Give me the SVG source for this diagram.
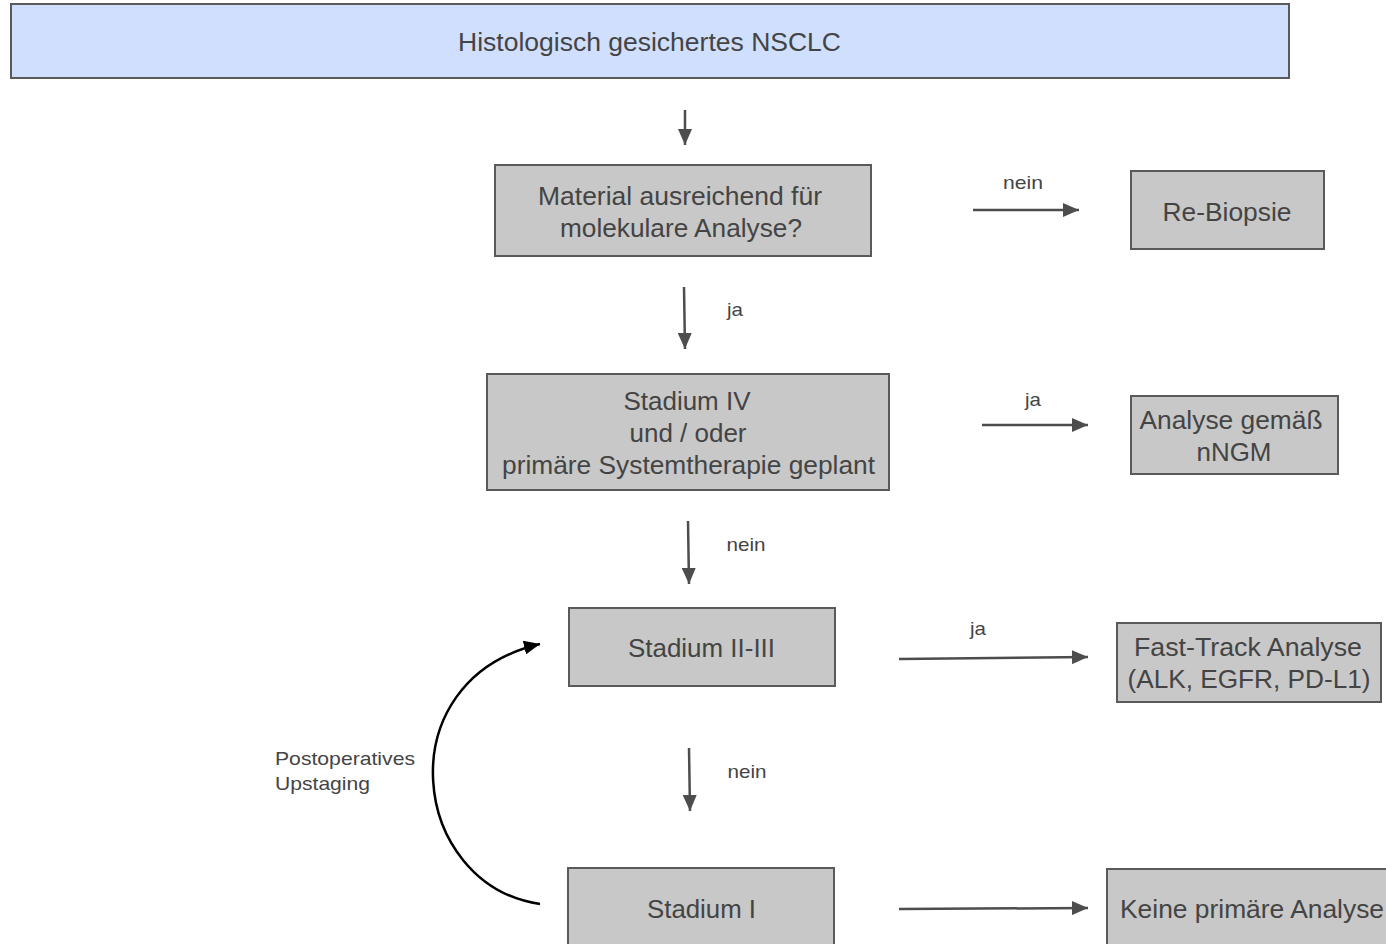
<svg xmlns="http://www.w3.org/2000/svg" width="1386" height="944" viewBox="0 0 1386 944">
  <style>
    .box { fill: #c8c8c8; stroke: #5a5a5a; stroke-width: 2; }
    .head { fill: #cfdffd; stroke: #5a5a5a; stroke-width: 2; }
    .t { font-family: "Liberation Sans", Arial, sans-serif; font-size: 25px; fill: #444; text-anchor: middle; }
    .lbl { font-family: "Liberation Sans", Arial, sans-serif; font-size: 19px; fill: #444; text-anchor: middle; }
    .note { font-family: "Liberation Sans", Arial, sans-serif; font-size: 19px; fill: #444; }
    .conn { stroke: #4d4d4d; stroke-width: 2.5; fill: none; marker-end: url(#arr); }
    .loop { stroke: #000; stroke-width: 2.5; fill: none; marker-end: url(#arrK); }
  </style>
  <defs>
    <marker id="arr" markerUnits="userSpaceOnUse" markerWidth="16" markerHeight="14" refX="16" refY="7" orient="auto">
      <path d="M0,0 L16,7 L0,14 z" fill="#4d4d4d"/>
    </marker>
    <marker id="arrK" markerUnits="userSpaceOnUse" markerWidth="16" markerHeight="14" refX="16" refY="7" orient="auto">
      <path d="M0,0 L16,7 L0,14 z" fill="#000"/>
    </marker>
  </defs>

  <rect width="1386" height="944" fill="#fff"/>

  <g id="n-start">
    <rect class="head" x="11" y="4" width="1278" height="74"/>
    <text class="t" x="649.5" y="51" textLength="383" lengthAdjust="spacingAndGlyphs">Histologisch gesichertes NSCLC</text>
  </g>

  <g id="n-material">
    <rect class="box" x="495" y="165" width="376" height="91"/>
    <text class="t" x="680" y="205" textLength="284" lengthAdjust="spacingAndGlyphs">Material ausreichend für</text>
    <text class="t" x="681" y="237" textLength="242" lengthAdjust="spacingAndGlyphs">molekulare Analyse?</text>
  </g>

  <g id="n-rebiopsie">
    <rect class="box" x="1131" y="171" width="193" height="78"/>
    <text class="t" x="1227" y="221" textLength="129" lengthAdjust="spacingAndGlyphs">Re-Biopsie</text>
  </g>

  <g id="n-stadium4">
    <rect class="box" x="487" y="374" width="402" height="116"/>
    <text class="t" x="687" y="410" textLength="127" lengthAdjust="spacingAndGlyphs">Stadium IV</text>
    <text class="t" x="688" y="442" textLength="117" lengthAdjust="spacingAndGlyphs">und / oder</text>
    <text class="t" x="688.5" y="474" textLength="373" lengthAdjust="spacingAndGlyphs">primäre Systemtherapie geplant</text>
  </g>

  <g id="n-ngm">
    <rect class="box" x="1131" y="396" width="207" height="78"/>
    <text class="t" x="1231" y="429" textLength="183" lengthAdjust="spacingAndGlyphs">Analyse gemäß</text>
    <text class="t" x="1234" y="461" textLength="75" lengthAdjust="spacingAndGlyphs">nNGM</text>
  </g>

  <g id="n-stadium23">
    <rect class="box" x="569" y="608" width="266" height="78"/>
    <text class="t" x="701.5" y="657" textLength="147" lengthAdjust="spacingAndGlyphs">Stadium II-III</text>
  </g>

  <g id="n-fasttrack">
    <rect class="box" x="1117" y="623" width="264" height="79"/>
    <text class="t" x="1248" y="656" textLength="228" lengthAdjust="spacingAndGlyphs">Fast-Track Analyse</text>
    <text class="t" x="1249" y="688" textLength="243" lengthAdjust="spacingAndGlyphs">(ALK, EGFR, PD-L1)</text>
  </g>

  <g id="n-stadium1">
    <rect class="box" x="568" y="868" width="266" height="90"/>
    <text class="t" x="701.5" y="918" textLength="109" lengthAdjust="spacingAndGlyphs">Stadium I</text>
  </g>

  <g id="n-keine">
    <rect class="box" x="1107" y="869" width="300" height="90"/>
    <text class="t" x="1120" y="918" style="text-anchor:start" textLength="264" lengthAdjust="spacingAndGlyphs">Keine primäre Analyse</text>
  </g>

  <g id="connectors">
    <line class="conn" x1="685" y1="110" x2="685" y2="145"/>
    <line class="conn" x1="973" y1="210" x2="1079" y2="210"/>
    <line class="conn" x1="684" y1="287" x2="685" y2="349"/>
    <line class="conn" x1="982" y1="425" x2="1088" y2="425"/>
    <line class="conn" x1="688" y1="521" x2="689" y2="584"/>
    <line class="conn" x1="899" y1="659" x2="1088" y2="657"/>
    <line class="conn" x1="689" y1="748" x2="690" y2="811"/>
    <line class="conn" x1="899" y1="909" x2="1088" y2="908"/>
    <path class="loop" d="M540,904 C410,885 385,680 540,644"/>

    <text class="lbl" x="1023" y="189" textLength="40" lengthAdjust="spacingAndGlyphs">nein</text>
    <text class="lbl" x="735" y="316" textLength="16" lengthAdjust="spacingAndGlyphs">ja</text>
    <text class="lbl" x="1033" y="406" textLength="16" lengthAdjust="spacingAndGlyphs">ja</text>
    <text class="lbl" x="746" y="551" textLength="39" lengthAdjust="spacingAndGlyphs">nein</text>
    <text class="lbl" x="978" y="635" textLength="16" lengthAdjust="spacingAndGlyphs">ja</text>
    <text class="lbl" x="747" y="778" textLength="39" lengthAdjust="spacingAndGlyphs">nein</text>
    <text class="note" x="275" y="765" textLength="140" lengthAdjust="spacingAndGlyphs">Postoperatives</text>
    <text class="note" x="275" y="790" textLength="95" lengthAdjust="spacingAndGlyphs">Upstaging</text>
  </g>
</svg>
